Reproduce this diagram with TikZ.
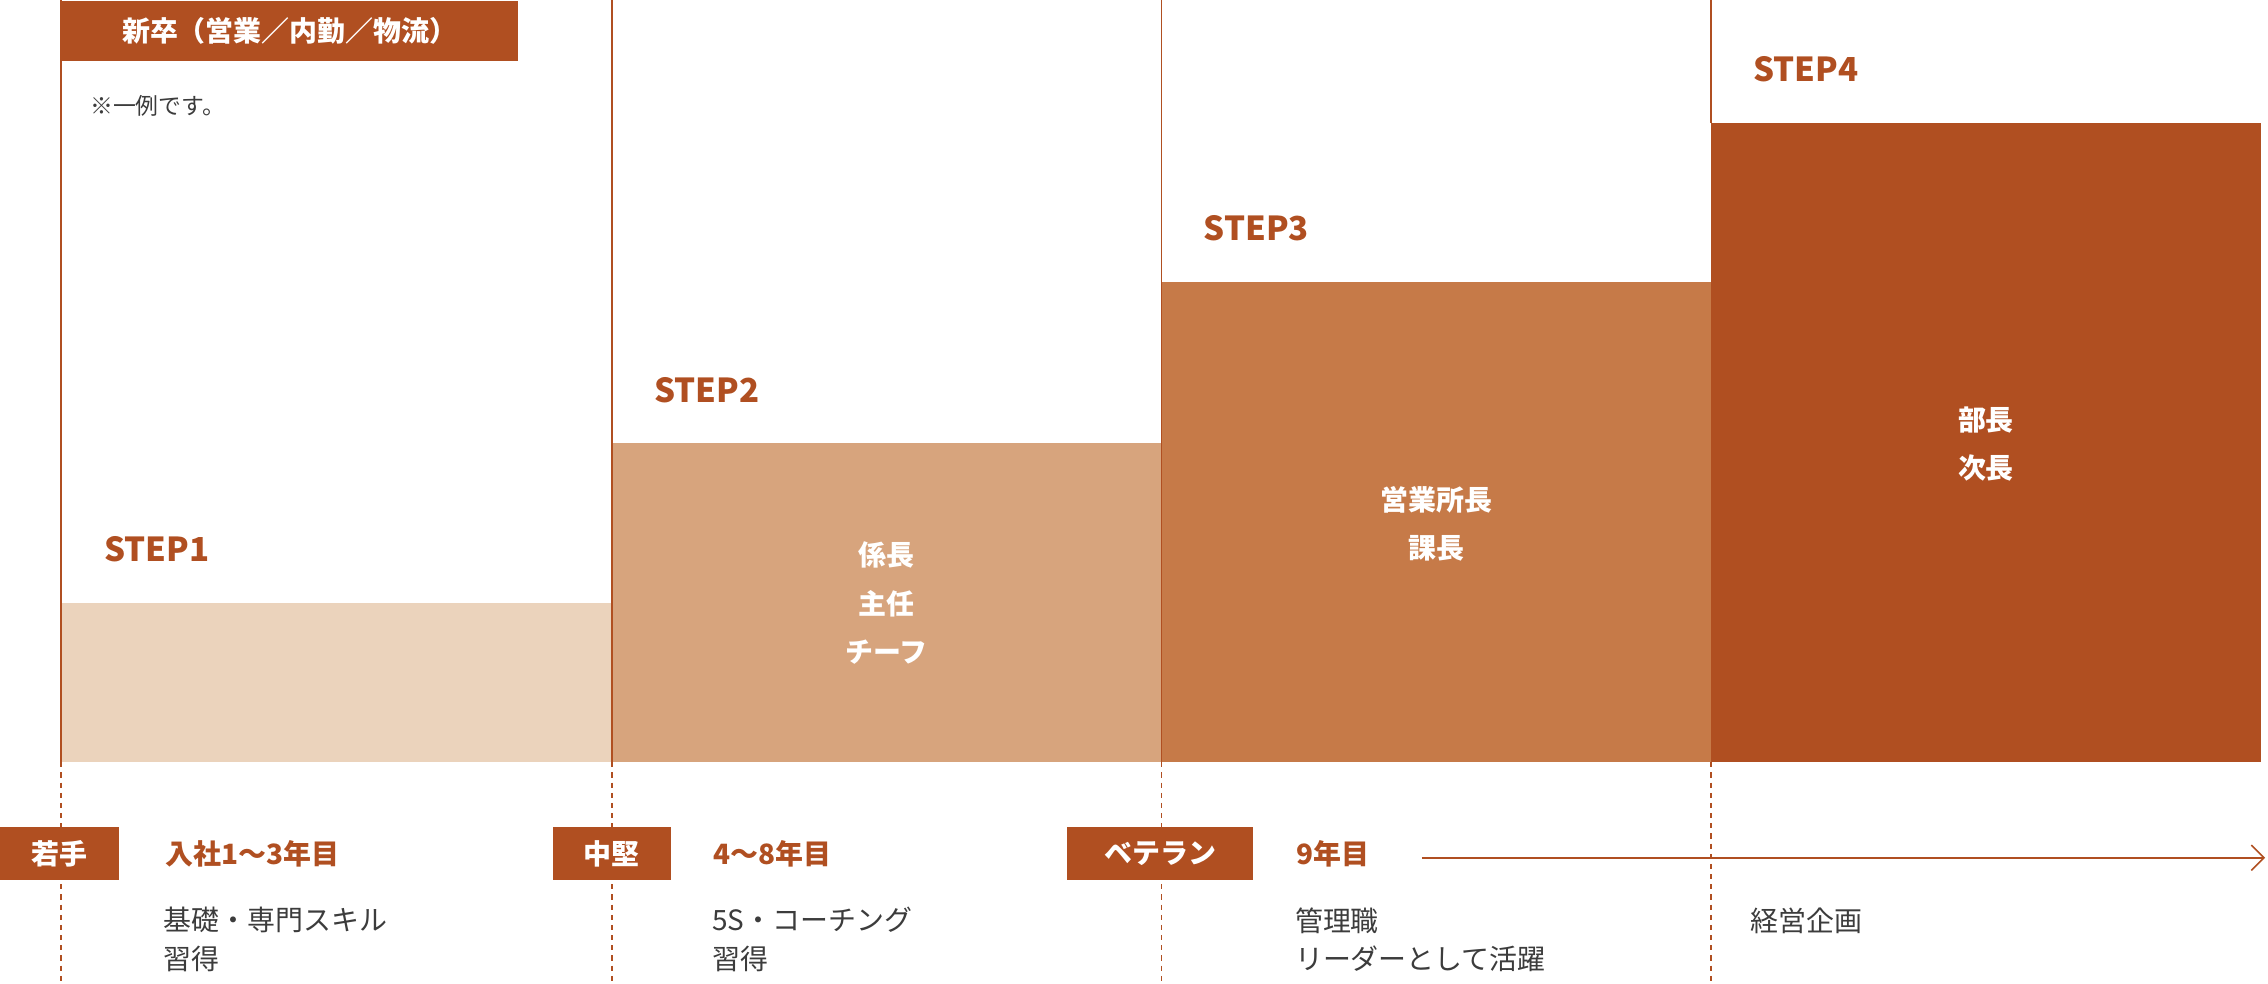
\documentclass[tikz,border=0pt]{standalone}
\usepackage{fontspec}
\setmainfont{Noto Sans CJK JP}
\usetikzlibrary{positioning,arrows.meta}
\definecolor{rust}{HTML}{B04F21}
\definecolor{barA}{HTML}{EBD3BC}
\definecolor{barB}{HTML}{D7A47D}
\definecolor{barC}{HTML}{C67A48}
\definecolor{ink}{HTML}{3C3C3C}
\tikzset{
  steplabel/.style={anchor=west,text=rust,font=\fontsize{13}{13}\selectfont\bfseries},
  bartext/.style={text=white,font=\fontsize{11}{11}\selectfont\bfseries},
  tagbox/.style={fill=rust,text=white,font=\fontsize{11}{11}\selectfont\bfseries,minimum height=37*0.02cm,inner sep=0pt},
  yearlabel/.style={anchor=west,text=rust,font=\fontsize{11}{11}\selectfont\bfseries},
  desc/.style={anchor=north west,text=ink,font=\fontsize{11}{11}\selectfont,align=left,inner sep=0pt},
  guide/.style={rust,line width=0.6pt},
  dashguide/.style={rust,line width=0.6pt,dash pattern=on 2pt off 2pt}
}
\begin{document}
\begin{tikzpicture}[x=0.02cm,y=-0.02cm]
  \useasboundingbox (0,0) rectangle (1568,680);
  % bars
  \fill[barA] (42,417) rectangle (423,527);
  \fill[barB] (423,306) rectangle (803,527);
  \fill[barC] (803,195) rectangle (1183,527);
  \fill[rust] (1183,85) rectangle (1563,527);
  % guide lines
  \foreach \x/\t in {42/0,423/0,803/0,1183/0} {
    \coordinate (top\x) at (\x,\t);
    \coordinate (base\x) at (\x,527);
    \coordinate (foot\x) at (\x,680);
    \draw[dashguide] (base\x) -- (foot\x);
  }
  \draw[guide] (top42) -- (base42);
  \draw[guide] (top423) -- (base423);
  \draw[guide] (top803) -- (base803);
  \draw[guide] (top1183) -- (1183,85);
  % header
  \node[fill=rust,text=white,font=\fontsize{11}{11}\selectfont\bfseries,anchor=north west,
        minimum width=316*0.02cm,minimum height=42*0.02cm,inner sep=0pt] (head) at (42,0) {新卒（営業／内勤／物流）};
  \node[anchor=west,text=ink,font=\fontsize{9}{9}\selectfont,inner sep=0pt] (note) at (62,73) {※一例です。};
  % steps
  \node[steplabel] (s1) at (66,380) {STEP1};
  \node[steplabel] (s2) at (446,270) {STEP2};
  \node[steplabel] (s3) at (826,158) {STEP3};
  \node[steplabel] (s4) at (1206,48) {STEP4};
  \node[bartext,align=center] (r2) at (613,417) {係長\\[8pt]主任\\[8pt]チーフ};
  \node[bartext,align=center] (r3) at (993,362) {営業所長\\[8pt]課長};
  \node[bartext,align=center] (r4) at (1373,307) {部長\\[8pt]次長};
  % bottom row
  \node[tagbox,minimum width=82*0.02cm] (t1) at (41,590) {若手};
  \node[tagbox,minimum width=82*0.02cm] (t2) at (423,590) {中堅};
  \node[tagbox,minimum width=128*0.02cm] (t3) at (802,590) {ベテラン};
  \node[yearlabel] (y1) at (108,590) {入社1〜3年目};
  \node[yearlabel] (y2) at (487,590) {4〜8年目};
  \node[yearlabel] (y3) at (890,590) {9年目};
  \coordinate (arrA) at (983,593);
  \coordinate (arrB) at (1566,593);
  \draw[guide,-{Straight Barb[length=5pt]}] (arrA) -- (arrB);
  \node[desc] (d1) at (113,627) {基礎・専門スキル\\[4pt]習得};
  \node[desc] (d2) at (492,627) {5S・コーチング\\[4pt]習得};
  \node[desc] (d3) at (895,627) {管理職\\[4pt]リーダーとして活躍};
  \node[desc] (d4) at (1210,627) {経営企画};
\end{tikzpicture}
\end{document}
